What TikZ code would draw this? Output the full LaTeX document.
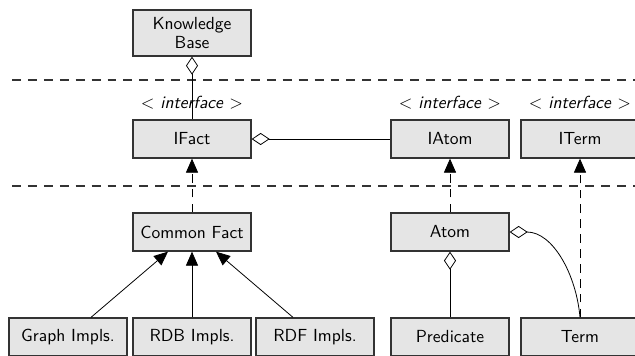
\documentclass[tikz,border=0pt]{standalone}
\usetikzlibrary{arrows.meta,calc}
\begin{document}
\begin{tikzpicture}[x=0.5714pt,y=-0.5714pt,
  cls/.style={draw=black!80, line width=0.75pt, fill=black!10,
    minimum width=67.4pt, minimum height=21.7pt, inner sep=0pt,
    font=\sffamily\fontsize{10}{11}\selectfont, align=center},
  iface/.style={font=\sffamily\fontsize{10}{11}\selectfont, inner sep=0pt},
  conn/.style={draw=black, line width=0.45pt},
  sep/.style={draw=black!80, line width=0.6pt, dash pattern=on 5.1pt off 4pt},
  impl/.style={conn, dash pattern=on 5pt off 3.5pt},
  gen/.style={-{Triangle[length=8pt,width=6.9pt]}},
  agg/.style={{Diamond[open,length=10.3pt,width=6.9pt]}-}
]
\useasboundingbox (0,0) rectangle (635,355);
\clip (0,0) rectangle (635,355);

% layer separators
\coordinate (s1a) at (12,80);
\coordinate (s1b) at (645,80);
\coordinate (s2a) at (12,186);
\coordinate (s2b) at (645,186);
\draw[sep] (s1a) -- (s1b);
\draw[sep] (s2a) -- (s2b);

% classes
\node[cls, minimum height=26.3pt] (kb) at (192,33) {Knowledge\\Base};
\node[cls] (ifact) at (192,139) {IFact};
\node[cls] (iatom) at (450,139) {IAtom};
\node[cls] (iterm) at (580,139) {ITerm};
\node[cls] (cfact) at (192,232) {Common Fact};
\node[cls] (atom)  at (450,232) {Atom};
\node[cls] (graph) at (68,337)  {Graph Impls.};
\node[cls] (rdb)   at (192,337) {RDB Impls.};
\node[cls] (rdf)   at (315,337) {RDF Impls.};
\node[cls] (pred)  at (450,337) {Predicate};
\node[cls] (term)  at (580,337) {Term};

% stereotypes
\node[iface] (ifact-s) at (192,103) {$<$ \textit{interface} $>$};
\node[iface] (iatom-s) at (450,103) {$<$ \textit{interface} $>$};
\node[iface] (iterm-s) at (580,103) {$<$ \textit{interface} $>$};

% aggregations
\draw[conn, agg] (kb.south) -- (ifact.north);
\draw[conn, agg] (ifact.east) -- (iatom.west);
\draw[conn, agg] (atom.south) -- (pred.north);
\draw[conn, agg] (atom.east) to[out=0, in=95] (term.north);

% realisations
\draw[impl, gen] (cfact.north) -- (ifact.south);
\draw[impl, gen] (atom.north) -- (iatom.south);
\draw[impl, gen] (term.north) -- (iterm.south);

% specialisations
\draw[conn, gen] ($(graph.north)+(23,0)$) -- ($(cfact.south)+(-24,0)$);
\draw[conn, gen] (rdb.north) -- (cfact.south);
\draw[conn, gen] ($(rdf.north)+(-22,0)$) -- ($(cfact.south)+(24,0)$);
\end{tikzpicture}
\end{document}
